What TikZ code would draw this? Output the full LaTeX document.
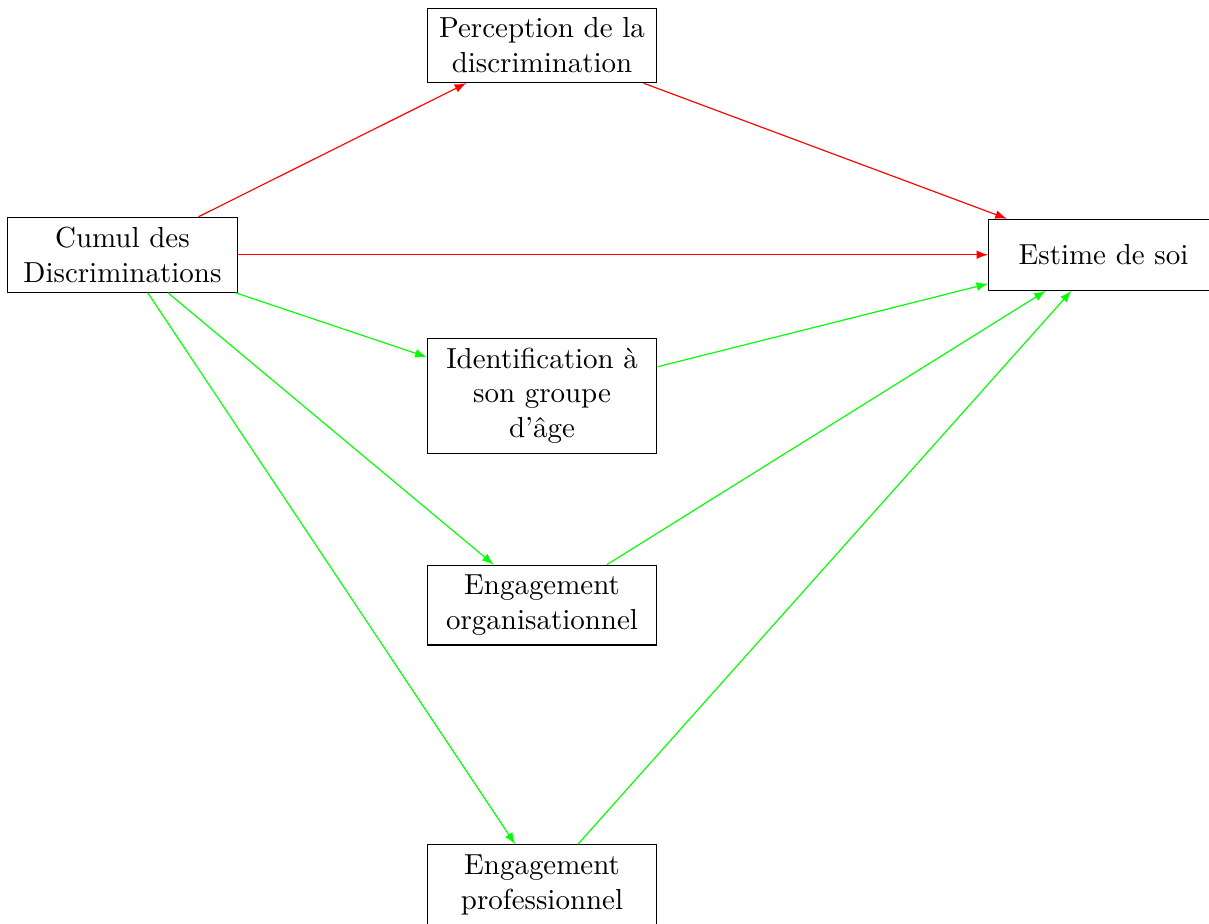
\documentclass[tikz,border=0pt]{standalone}
\usepackage{tikz}
\usetikzlibrary{arrows.meta, positioning}

\begin{document}
\begin{tikzpicture}[
  every node/.style={align=center},
  bloc/.style={draw, text width=2.55cm, align=center},
  lienrouge/.style={-latex, red},
  lienvert/.style={-latex, green}
]

%% Parameters
\def\mx{5.09}  % x of the middle column
\def\ex{11.9}  % x of the outcome

%% ---- Frame ----
\useasboundingbox (-1.485,-8.11) rectangle (13.18,3.09);

%% ---- Boxes ----
\node[bloc] (cumul) at (0,0) {Cumul des Discriminations};
\node[bloc] (percep) at (\mx,2.54) {Perception de la discrimination};
\node[bloc, minimum height=24.5pt] (estime) at (\ex,0) {Estime de soi};
\node[bloc] (ident) at (\mx,-1.71) {Identification à son groupe d'âge};
\node[bloc] (orga) at (\mx,-4.25) {Engagement organisationnel};
\node[bloc] (prof) at (\mx,-7.64) {Engagement professionnel};

%% ---- Red paths ----
\draw[lienrouge] (cumul) -- (percep);
\draw[lienrouge] (percep) -- (estime);
\draw[lienrouge] (cumul) -- (estime);

%% ---- Green paths ----
\foreach \m in {ident, orga, prof}{
  \draw[lienvert] (cumul) -- (\m);
  \draw[lienvert] (\m) -- (estime);
}

\end{tikzpicture}
\end{document}
